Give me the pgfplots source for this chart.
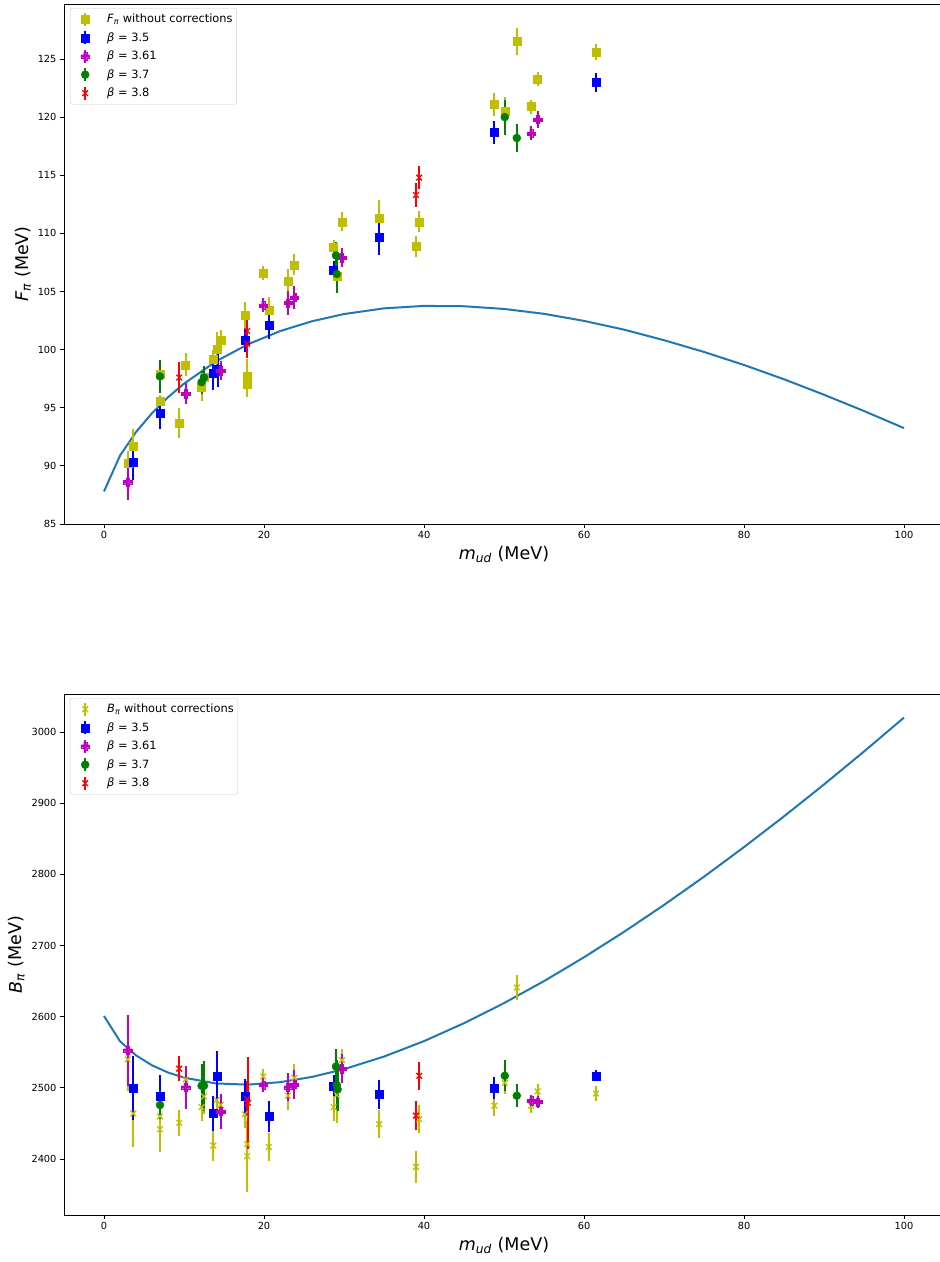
\documentclass[border=0pt]{standalone}
\usepackage{fontspec}
\setmainfont{DejaVu Sans}
\usepackage{pgfplots}
\pgfplotsset{compat=1.18}

\definecolor{cy}{rgb}{0.75,0.75,0}
\definecolor{cb}{rgb}{0,0,1}
\definecolor{cm}{rgb}{0.75,0,0.75}
\definecolor{cg}{rgb}{0,0.5,0}
\definecolor{cr}{rgb}{1,0,0}
\definecolor{fitblue}{HTML}{1F77B4}

% filled plus, like matplotlib's 'P'
\pgfdeclareplotmark{Pfill}{%
  \pgfpathmoveto{\pgfpoint{-0.36\pgfplotmarksize}{\pgfplotmarksize}}%
  \pgfpathlineto{\pgfpoint{0.36\pgfplotmarksize}{\pgfplotmarksize}}%
  \pgfpathlineto{\pgfpoint{0.36\pgfplotmarksize}{0.36\pgfplotmarksize}}%
  \pgfpathlineto{\pgfpoint{\pgfplotmarksize}{0.36\pgfplotmarksize}}%
  \pgfpathlineto{\pgfpoint{\pgfplotmarksize}{-0.36\pgfplotmarksize}}%
  \pgfpathlineto{\pgfpoint{0.36\pgfplotmarksize}{-0.36\pgfplotmarksize}}%
  \pgfpathlineto{\pgfpoint{0.36\pgfplotmarksize}{-\pgfplotmarksize}}%
  \pgfpathlineto{\pgfpoint{-0.36\pgfplotmarksize}{-\pgfplotmarksize}}%
  \pgfpathlineto{\pgfpoint{-0.36\pgfplotmarksize}{-0.36\pgfplotmarksize}}%
  \pgfpathlineto{\pgfpoint{-\pgfplotmarksize}{-0.36\pgfplotmarksize}}%
  \pgfpathlineto{\pgfpoint{-\pgfplotmarksize}{0.36\pgfplotmarksize}}%
  \pgfpathlineto{\pgfpoint{-0.36\pgfplotmarksize}{0.36\pgfplotmarksize}}%
  \pgfpathclose\pgfusepathqfillstroke}

\pgfplotsset{
  panel/.style={
    scale only axis, width=880pt,
    xmin=-5, xmax=105, xtick={0,20,40,60,80,100},
    axis line style={line width=0.8pt},
    tick style={line width=0.8pt, black},
    tick align=outside, tick pos=left, major tick length=4pt,
    ticklabel style={font=\fontsize{9.8}{11}\selectfont},
    label style={font=\fontsize{17.5}{20}\selectfont},
    /pgf/number format/assume math mode=true,
    /pgf/number format/1000 sep={},
    xlabel={\textit{m}\textsubscript{\textit{ud}} (MeV)},
    legend cell align=left,
    legend style={at={(axis description cs:0.0068,0.9923)}, anchor=north west,
      draw=black!20, rounded corners=2pt, font=\fontsize{11.4}{13}\selectfont,
      inner xsep=2pt, inner ysep=3.5pt, row sep=3.5pt},
  },
  ebar/.style={only marks, forget plot, color=#1,
    error bars/y dir=both, error bars/y explicit, error bars/error mark=none,
    error bars/error bar style={line width=2pt, solid, draw=#1}},
  leg/.style n args={4}{legend image code/.code={%
      \path[draw=none, fill=none] (0pt,0pt) -- (33pt,0pt);
      \draw[line width=2pt, draw=#1] (13pt,-6.5pt) -- (13pt,6.5pt);
      \draw[color=#1, mark=#2, mark size=#3, mark options={#4}, only marks]
        plot coordinates {(13pt,0pt)};}},
  sqY/.style={ebar=cy, mark=square*, mark size=4pt},
  sqB/.style={ebar=cb, mark=square*, mark size=4pt},
  plM/.style={ebar=cm, mark=Pfill, mark size=4.2pt, mark options={line width=0.3pt}},
  ciG/.style={ebar=cg, mark=*, mark size=4pt},
  xR/.style={ebar=cr, mark=x, mark size=4pt, mark options={line width=1.3pt}},
  xY/.style={ebar=cy, mark=x, mark size=4pt, mark options={line width=1.3pt}},
  fit/.style={no marks, color=fitblue, line width=2pt, forget plot},
}

\begin{document}
\begin{tikzpicture}
\useasboundingbox (-64pt,-738pt) rectangle (876pt,524pt);

% ---------------- F_pi ----------------
\begin{axis}[panel, at={(0,0)}, anchor=south west, height=520pt,
  ymin=85, ymax=129.73, ytick={85,90,...,125},
  ylabel={\textit{F}\textsubscript{\textit{π}} (MeV)}]
\addplot[fit] coordinates {
  (0,87.8)(2,90.88)(4,92.91)(6,94.53)(8,95.90)(10,97.07)(14,98.99)(18,100.46)
  (22,101.59)(26,102.44)(30,103.06)(35,103.55)(40,103.76)(45,103.73)(50,103.50)
  (55,103.08)(60,102.47)(65,101.72)(70,100.81)(75,99.80)(80,98.68)(85,97.45)
  (90,96.12)(95,94.72)(100,93.25)};

\addplot[sqY] coordinates {
  (3.0,90.25) +- (0,1.0)   (3.67,91.7) +- (0,1.5)  (7.0,95.6) +- (0,0.5)
  (7.0,97.9) +- (0,1.0)    (9.4,93.7) +- (0,1.3)   (10.2,98.7) +- (0,1.0)
  (12.2,96.8) +- (0,1.2)   (12.5,97.6) +- (0,1.0)  (13.67,99.2) +- (0,0.8)
  (14.1,100.0) +- (0,1.5)  (14.6,100.8) +- (0,0.9) (17.6,103.0) +- (0,1.1)
  (17.9,97.7) +- (0,1.5)   (17.9,97.0) +- (0,1.1)  (19.9,106.6) +- (0,0.6)
  (20.6,103.4) +- (0,1.1)  (23.0,105.9) +- (0,1.0) (23.8,107.3) +- (0,0.9)
  (28.7,108.8) +- (0,0.6)  (29.1,106.3) +- (0,1.3) (29.75,111.0) +- (0,0.8)
  (34.4,111.3) +- (0,1.6)  (39.0,108.9) +- (0,0.9) (39.4,111.0) +- (0,0.9)
  (48.8,121.1) +- (0,1.0)  (50.1,120.5) +- (0,1.2) (51.6,126.5) +- (0,1.2)
  (53.4,120.9) +- (0,0.6)  (54.2,123.3) +- (0,0.6) (61.5,125.6) +- (0,0.7)};
\addplot[sqB] coordinates {
  (3.67,90.3) +- (0,1.5)   (7.0,94.5) +- (0,1.3)   (13.67,98.0) +- (0,1.5)
  (14.2,98.3) +- (0,1.5)   (17.6,100.8) +- (0,1.0) (20.6,102.1) +- (0,1.2)
  (28.7,106.8) +- (0,0.8)  (34.4,109.7) +- (0,1.6) (48.8,118.7) +- (0,1.0)
  (61.5,123.0) +- (0,0.8)};
\addplot[plM] coordinates {
  (2.96,88.6) +- (0,1.5)   (10.2,96.2) +- (0,0.9)  (14.6,98.2) +- (0,0.8)
  (19.9,103.8) +- (0,0.6)  (23.0,104.0) +- (0,1.0) (23.8,104.5) +- (0,1.0)
  (29.75,107.9) +- (0,0.8) (53.4,118.6) +- (0,0.6) (54.2,119.8) +- (0,0.7)};
\addplot[ciG] coordinates {
  (7.0,97.7) +- (0,1.4)    (12.2,97.2) +- (0,1.0)  (12.5,97.6) +- (0,1.0)
  (29.0,108.1) +- (0,1.2)  (29.1,106.5) +- (0,1.6) (50.1,120.0) +- (0,1.5)
  (51.6,118.2) +- (0,1.2)};
\addplot[xR] coordinates {
  (9.4,97.6) +- (0,1.3)    (17.9,101.6) +- (0,1.0) (17.9,100.5) +- (0,1.2)
  (39.0,113.3) +- (0,1.0)  (39.4,114.8) +- (0,1.0)};

\addlegendimage{leg={cy}{square*}{4pt}{}}
\addlegendentry{\textit{F}\textsubscript{\textit{π}} without corrections}
\addlegendimage{leg={cb}{square*}{4pt}{}}
\addlegendentry{\textit{β} = 3.5}
\addlegendimage{leg={cm}{Pfill}{4.2pt}{line width=0.3pt}}
\addlegendentry{\textit{β} = 3.61}
\addlegendimage{leg={cg}{*}{4pt}{}}
\addlegendentry{\textit{β} = 3.7}
\addlegendimage{leg={cr}{x}{4pt}{line width=1.3pt}}
\addlegendentry{\textit{β} = 3.8}
\end{axis}

% ---------------- B_pi ----------------
\begin{axis}[panel, at={(0,-170pt)}, anchor=north west, height=521pt,
  ymin=2321.4, ymax=3053.4, ytick={2400,2500,...,3000},
  ylabel={\textit{B}\textsubscript{\textit{π}} (MeV)}]
\addplot[fit] coordinates {
  (0,2601)(2,2565.5)(4,2545.7)(6,2531.7)(8,2521.6)(10,2514.4)(14,2506.2)
  (18,2504.6)(22,2508.0)(26,2515.4)(30,2526.3)(35,2544.0)(40,2565.7)(45,2590.9)
  (50,2619.1)(55,2650.0)(60,2683.5)(65,2719.2)(70,2757.0)(75,2796.7)(80,2838.3)
  (85,2881.5)(90,2926.3)(95,2972.6)(100,3020.3)};

\addplot[xY] coordinates {
  (2.96,2540) +- (0,45)  (3.67,2464) +- (0,47)  (7.0,2460) +- (0,20)
  (7.0,2442) +- (0,32)   (9.4,2451) +- (0,18)   (10.2,2512) +- (0,15)
  (12.2,2473) +- (0,20)  (12.5,2488) +- (0,25)  (13.67,2419) +- (0,22)
  (14.1,2483) +- (0,20)  (14.6,2476) +- (0,15)  (17.6,2463) +- (0,20)
  (17.9,2421) +- (0,30)  (17.9,2404) +- (0,50)  (19.9,2516) +- (0,10)
  (20.6,2417) +- (0,20)  (23.0,2489) +- (0,20)  (23.8,2514) +- (0,20)
  (28.7,2473) +- (0,20)  (29.1,2490) +- (0,40)  (29.75,2539) +- (0,15)
  (34.4,2449) +- (0,20)  (39.0,2389) +- (0,22)  (39.4,2456) +- (0,20)
  (48.8,2475) +- (0,15)  (50.1,2507) +- (0,15)  (51.6,2641) +- (0,18)
  (53.4,2475) +- (0,10)  (54.2,2495) +- (0,10)  (61.5,2492) +- (0,10)};
\addplot[sqB] coordinates {
  (3.67,2500) +- (0,45)  (7.0,2488) +- (0,30)   (13.67,2464) +- (0,25)
  (14.1,2517) +- (0,35)  (17.6,2488) +- (0,25)  (20.6,2460) +- (0,22)
  (28.7,2503) +- (0,15)  (34.4,2491) +- (0,20)  (48.8,2500) +- (0,15)
  (61.5,2517) +- (0,8)};
\addplot[plM] coordinates {
  (2.96,2553) +- (0,50)  (10.2,2501) +- (0,30)  (14.6,2467) +- (0,25)
  (19.9,2504) +- (0,10)  (23.0,2501) +- (0,20)  (23.8,2505) +- (0,20)
  (29.75,2527) +- (0,20) (53.4,2482) +- (0,8)   (54.2,2480) +- (0,8)};
\addplot[ciG] coordinates {
  (7.0,2476) +- (0,20)   (12.2,2503) +- (0,30)  (12.5,2503) +- (0,35)
  (29.0,2530) +- (0,25)  (29.1,2504) +- (0,35)  (29.2,2498) +- (0,30)
  (50.1,2517) +- (0,22)  (51.6,2489) +- (0,16)};
\addplot[xR] coordinates {
  (9.4,2527) +- (0,18)   (17.9,2484) +- (0,25)  (18.0,2479) +- (0,65)
  (39.0,2461) +- (0,20)  (39.4,2517) +- (0,20)};

\addlegendimage{leg={cy}{x}{4pt}{line width=1.3pt}}
\addlegendentry{\textit{B}\textsubscript{\textit{π}} without corrections}
\addlegendimage{leg={cb}{square*}{4pt}{}}
\addlegendentry{\textit{β} = 3.5}
\addlegendimage{leg={cm}{Pfill}{4.2pt}{line width=0.3pt}}
\addlegendentry{\textit{β} = 3.61}
\addlegendimage{leg={cg}{*}{4pt}{}}
\addlegendentry{\textit{β} = 3.7}
\addlegendimage{leg={cr}{x}{4pt}{line width=1.3pt}}
\addlegendentry{\textit{β} = 3.8}
\end{axis}
\end{tikzpicture}
\end{document}
